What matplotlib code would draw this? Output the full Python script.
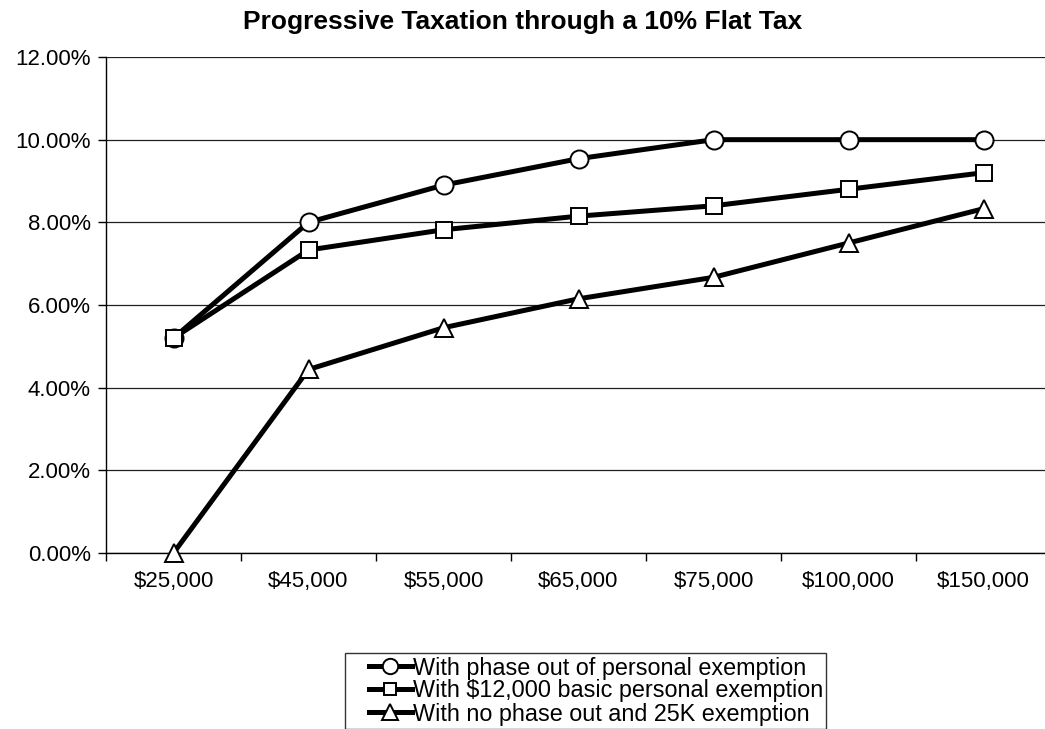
import matplotlib
matplotlib.use("Agg")
import matplotlib.pyplot as plt
from matplotlib.ticker import FuncFormatter
from matplotlib.legend_handler import HandlerLine2D

categories = ["$25,000", "$45,000", "$55,000", "$65,000", "$75,000", "$100,000", "$150,000"]
phase_out = [5.20, 8.00, 8.90, 9.54, 10.00, 10.00, 10.00]
basic_12k = [5.20, 7.33, 7.82, 8.15, 8.40, 8.80, 9.20]
no_phase_25k = [0.00, 4.44, 5.45, 6.15, 6.67, 7.50, 8.33]
series_labels = ["With phase out of personal exemption",
                 "With $12,000 basic personal exemption",
                 "With no phase out and 25K exemption"]
yticks = [0, 2, 4, 6, 8, 10, 12]

plt.rcParams['font.family'] = ['Liberation Sans', 'DejaVu Sans']
plt.rcParams['text.parse_math'] = False


class PadHandler(HandlerLine2D):
    """Line handler that leaves empty space on the left of the handle."""
    def __init__(self, frac=0.33, **kw):
        super().__init__(**kw)
        self.frac = frac

    def create_artists(self, legend, orig_handle, xdescent, ydescent,
                       width, height, fontsize, trans):
        pad = width * self.frac
        return super().create_artists(legend, orig_handle, xdescent - pad,
                                      ydescent, width - pad, height,
                                      fontsize, trans)


fig = plt.figure(figsize=(10.45, 7.29), dpi=100)
W, H = 1045, 729
left, right, top, bottom = 106, 1051, 57, 553
ax = fig.add_axes([left / W, 1 - bottom / H, (right - left) / W, (bottom - top) / H])

x = list(range(len(categories)))
style = dict(color='black', linewidth=3.6, markerfacecolor='white',
             markeredgecolor='black', markeredgewidth=1.4, clip_on=False)
ax.plot(x, no_phase_25k, marker='^', markersize=13, label=series_labels[2], zorder=3, **style)
ax.plot(x, phase_out, marker='o', markersize=13, label=series_labels[0], zorder=4, **style)
ax.plot(x, basic_12k, marker='s', markersize=11, label=series_labels[1], zorder=5, **style)

ax.set_xlim(-0.5, 6.5)
ax.set_ylim(0, 12)
ax.set_yticks(yticks)
ax.yaxis.set_major_formatter(FuncFormatter(lambda v, p: f"{v:.2f}%"))
ax.set_xticks(x)
ax.set_xticklabels(categories)
ax.set_xticks([i + 0.5 for i in range(-1, len(categories))], minor=True)
ax.tick_params(axis='x', which='major', length=0, pad=13, labelsize=16)
ax.tick_params(axis='x', which='minor', length=6, width=1, direction='out')
ax.tick_params(axis='y', length=6, width=1, direction='out', labelsize=16, pad=5)

ax.grid(axis='y', color='#202020', linewidth=0.9)
ax.set_axisbelow(True)
for s in ['top', 'right']:
    ax.spines[s].set_visible(False)
for s in ['left', 'bottom']:
    ax.spines[s].set_linewidth(1)

fig.text(0.5, 1 - 22 / H, "Progressive Taxation through a 10% Flat Tax",
         ha='center', va='center', fontsize=19, fontweight='bold')

handles, labels = ax.get_legend_handles_labels()
by_label = dict(zip(labels, handles))
leg_handles = [by_label[l] for l in series_labels]
leg = fig.legend(leg_handles, series_labels,
                 loc='upper left', bbox_to_anchor=(345 / W, 1 - 653 / H),
                 fontsize=16.8, frameon=True, fancybox=False, edgecolor='black',
                 handlelength=2.7, handletextpad=0.05, labelspacing=0.0,
                 borderpad=0.15, borderaxespad=0, markerscale=0.85,
                 handler_map={h: PadHandler() for h in handles})
leg.get_frame().set_linewidth(1)
for h in leg.legend_handles:
    h.set_linewidth(3.6)

fig.savefig("out.png", dpi=100)
